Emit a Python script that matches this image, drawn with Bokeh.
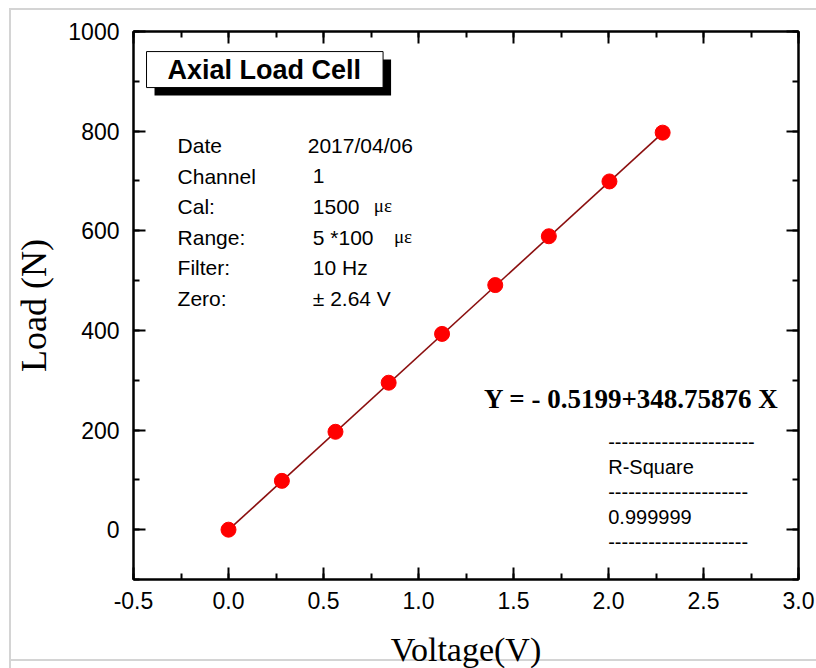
from bokeh.plotting import figure
from bokeh.models import (Range1d, LinearAxis, SingleIntervalTicker,
                          NumeralTickFormatter, CustomJSTickFormatter, Label,
                          ColumnDataSource)
from bokeh.embed import file_html
from bokeh.resources import INLINE

# ---- data ----
voltage = [0.0, 0.281, 0.563, 0.843, 1.124, 1.404, 1.686, 2.005, 2.285]
load = [0.0, 98.0, 196.5, 295.0, 393.0, 491.0, 589.0, 699.0, 797.0]
fit_intercept = -0.5199
fit_slope = 348.75876
r_square = "0.999999"

title_text = "Axial Load Cell"
info_names = ["Date", "Channel", "Cal:", "Range:", "Filter:", "Zero:"]
info_values = ["2017/04/06", "1", "1500", "5 *100", "10 Hz", "\u00b1 2.64 V"]
info_units = ["", "", "\u03bc\u03b5", "\u03bc\u03b5", "", ""]

x_start, x_end = -0.5, 3.0
y_start, y_end = -100, 1000

# ---- layout (pixels inside the figure) ----
FW, FH = 807, 660
ML, MR, MT, MB = 121, 20, 21, 90
frame_left_px, frame_top_px = 132, 31
frame_w = 796 - 132
frame_h = 578 - 31


def px_x(px):
    # window pixel -> data x (annotation placement only)
    return x_start + (px - frame_left_px) * (x_end - x_start) / frame_w


def px_y(py):
    return y_end - (py - frame_top_px) * (y_end - y_start) / frame_h


p = figure(width=FW, height=FH, output_backend="svg", toolbar_location=None,
           x_range=Range1d(x_start, x_end), y_range=Range1d(y_start, y_end),
           min_border_left=ML, min_border_right=MR, min_border_top=MT,
           min_border_bottom=MB, background_fill_color="white",
           border_fill_color=None)
p.margin = (8, 0, 0, 9)
p.styles = {"border-left": "2px solid #d4d4d4", "border-top": "2px solid #d4d4d4",
            "box-sizing": "border-box",
            "background": "linear-gradient(to bottom, #ffffff 0px, #ffffff 649px, "
                          "#d4d4d4 649px, #d4d4d4 651px, #ffffff 651px)"}
p.grid.visible = False
p.outline_line_color = "black"
p.outline_line_width = 2

xt = SingleIntervalTicker(interval=0.5, num_minor_ticks=2)
yt = SingleIntervalTicker(interval=200, num_minor_ticks=2)
bottom = p.below[0]
left = p.left[0]
bottom.ticker = xt
left.ticker = yt
bottom.formatter = NumeralTickFormatter(format="0.0")

blank = CustomJSTickFormatter(code="return '';")
top = LinearAxis(ticker=xt, formatter=blank, major_label_standoff=0)
right = LinearAxis(ticker=yt, formatter=blank, major_label_standoff=0)
p.add_layout(top, "above")
p.add_layout(right, "right")

for ax in (bottom, left, top, right):
    ax.axis_line_color = "black"
    ax.axis_line_width = 2
    ax.major_tick_in = 12
    ax.major_tick_out = 0
    ax.minor_tick_in = 6
    ax.minor_tick_out = 0
    ax.major_tick_line_width = 2
    ax.minor_tick_line_width = 2
    ax.major_tick_line_color = "black"
    ax.minor_tick_line_color = "black"

for ax in (bottom, left):
    ax.major_label_text_font = "Liberation Sans"
    ax.major_label_text_font_size = "23px"
    ax.major_label_text_color = "black"
    ax.axis_label_text_font = "Liberation Serif"
    ax.axis_label_text_font_style = "normal"
    ax.axis_label_text_color = "black"
bottom.axis_label_text_font_size = "34px"
left.axis_label_text_font_size = "36px"
bottom.major_label_standoff = 12
left.major_label_standoff = 14
bottom.axis_label = "Voltage(V)"
left.axis_label = "Load (N)"
bottom.axis_label_standoff = 19
left.axis_label_standoff = 11

# ---- fit line and points ----
line_x = [voltage[0], voltage[-1]]
line_y = [fit_intercept + fit_slope * v for v in line_x]
p.line(line_x, line_y, line_color="#8b0f0f", line_width=1.6)
src = ColumnDataSource(dict(x=voltage, y=load))
p.scatter("x", "y", source=src, size=15, fill_color="#ff0000", line_color="#ff0000")

# ---- title box with shadow (padding: left, right, top, bottom) ----
common = dict(text=title_text, text_font="Liberation Sans", text_font_size="27px",
              text_font_style="bold", text_baseline="middle", text_align="left",
              padding=(21, 22, 3, 3), x=px_x(145), y=px_y(69))
p.add_layout(Label(text_color="black", background_fill_color="black",
                   x_offset=8, y_offset=-8, **common))
p.add_layout(Label(text_color="black", background_fill_color="white",
                   border_line_color="black", border_line_width=1, **common))

# ---- info block ----
row_step = 30.5
for i, (n, v, u) in enumerate(zip(info_names, info_values, info_units)):
    base_y = px_y(145)
    p.add_layout(Label(x=px_x(176), y=base_y, y_offset=-row_step * i, text=n,
                       text_font="Liberation Sans", text_font_size="21px",
                       text_baseline="middle", text_color="black"))
    vx = 306 if i == 0 else 311
    p.add_layout(Label(x=px_x(vx), y=base_y, y_offset=-row_step * i, text=v,
                       text_font="Liberation Sans", text_font_size="21px",
                       text_baseline="middle", text_color="black"))
    if u:
        ux = 372 if i == 2 else 392
        p.add_layout(Label(x=px_x(ux), y=base_y, y_offset=-row_step * i + 1, text=u,
                           text_font="Liberation Serif", text_font_size="19px",
                           text_baseline="middle", text_color="black"))

# ---- equation ----
eq_text = "Y = - %.4f+%.5f X" % (abs(fit_intercept), fit_slope)
p.add_layout(Label(x=px_x(482), y=px_y(398), text=eq_text, text_font="Liberation Serif",
                   text_font_size="27px", text_font_style="bold",
                   text_baseline="middle", text_color="black"))

# ---- R-square table ----
r_rows = ["-" * 22, "R-Square", "-" * 21, r_square, "-" * 21]
for i, t in enumerate(r_rows):
    p.add_layout(Label(x=px_x(606), y=px_y(441), y_offset=-25 * i, text=t,
                       text_font="Liberation Sans", text_font_size="20px",
                       text_baseline="middle", text_color="black"))

open("out.html", "w").write(file_html(p, INLINE))
